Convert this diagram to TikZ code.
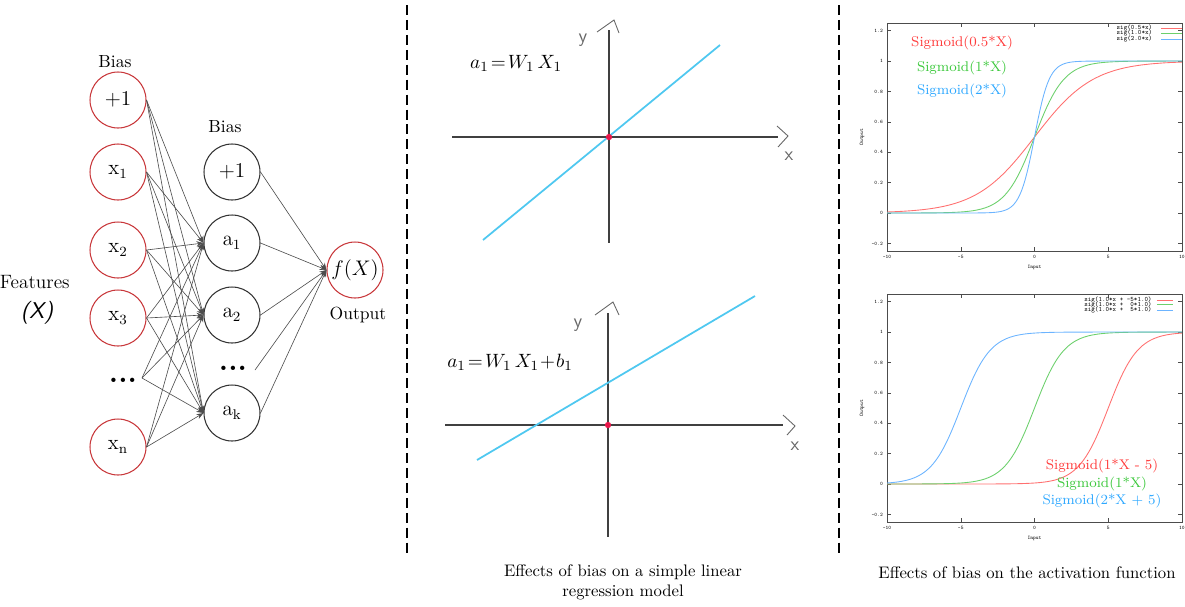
\documentclass[tikz,border=0pt]{standalone}
\usepackage{tikz}
\usetikzlibrary{positioning,arrows.meta}
\definecolor{neured}{HTML}{C8373A}
\definecolor{lineblue}{HTML}{4FC8F0}
\definecolor{orig}{HTML}{E8174A}
\definecolor{sigr}{HTML}{FF7070}
\definecolor{sigg}{HTML}{6CD06C}
\definecolor{sigb}{HTML}{6CB4FF}
\definecolor{labr}{HTML}{FF3B3B}
\definecolor{labg}{HTML}{3CC83C}
\definecolor{labb}{HTML}{2EA8FF}
\tikzset{
  inp/.style ={circle, draw=neured, line width=0.6pt, minimum size=1.12cm, inner sep=0pt, font=\fontsize{12}{14}\selectfont},
  hid/.style ={circle, draw=black!80, line width=0.6pt, minimum size=1.12cm, inner sep=0pt, font=\fontsize{12}{14}\selectfont},
  dotsn/.style={inner sep=0pt, font=\fontsize{17}{19}\selectfont\bfseries},
  lbl/.style ={inner sep=0pt, font=\fontsize{10}{12}\selectfont},
  wire/.style={draw=black!70, line width=0.35pt, -{Stealth[length=4pt,width=3pt]}},
  sep/.style ={draw=black, line width=1pt, dash pattern=on 5.7pt off 2.8pt},
  axisl/.style={draw=black!75, line width=0.9pt},
  hand/.style={draw=black!60, line width=0.5pt},
  handtxt/.style={text=black!60, font=\fontsize{11}{12}\selectfont\sffamily},
  regline/.style={draw=lineblue, line width=1pt},
  eq/.style={inner sep=0pt, font=\fontsize{11}{13}\selectfont},
  pframe/.style={draw=black!70, line width=0.3pt},
  tick/.style={inner sep=0.5pt, font=\fontsize{3}{3.5}\selectfont\ttfamily},
  leg/.style={inner sep=0pt, font=\fontsize{3.8}{4.2}\selectfont\ttfamily},
  siglab/.style={inner sep=0pt, font=\fontsize{8}{9.6}\selectfont},
  caption/.style={align=center, inner sep=0pt, font=\fontsize{9.5}{11.5}\selectfont},
  >=Stealth,
}
\newcommand{\plotframe}{%
  \draw[pframe] (-10,-0.25) rectangle (10,1.25);
  \foreach \v in {-0.2,0,0.2,0.4,0.6,0.8,1,1.2}{
    \draw[pframe] (-10,\v) -- ++(0.27,0);
    \draw[pframe] (10,\v) -- ++(-0.27,0);
    \node[tick, anchor=east] at (-10.2,\v) {\v};
  }
  \foreach \v in {-10,-5,0,5,10}{
    \draw[pframe] (\v,-0.25) -- ++(0,0.026);
    \draw[pframe] (\v,1.25) -- ++(0,-0.026);
    \node[tick, anchor=north] at (\v,-0.27) {\v};
  }
  \node[tick] at (0,-0.36) {Input};
  \node[tick, rotate=90] at (-11.7,0.5) {Output};
}

\begin{document}
\begin{tikzpicture}[x=0.02cm, y=-0.02cm]
\useasboundingbox (0,0) rectangle (1185,606);

% network
\node[lbl] (bias1) at (115,62) {Bias};
\node[inp] (b1) at (118,100) {$+1$};
\node[inp] (x1) at (118,172) {$\mathrm{x}_1$};
\node[inp] (x2) at (118,250) {$\mathrm{x}_2$};
\node[inp] (x3) at (118,318) {$\mathrm{x}_3$};
\node[dotsn] (xd) at (123,380) {...};
\coordinate (xdo) at (142,378);
\node[inp] (xn) at (118,447) {$\mathrm{x}_{\mathrm{n}}$};

\node[lbl] (bias2) at (225,127) {Bias};
\node[hid] (b2) at (232,172) {$+1$};
\node[hid] (a1) at (232,243) {$\mathrm{a}_1$};
\node[hid] (a2) at (232,315) {$\mathrm{a}_2$};
\node[dotsn] (ad) at (233,368) {...};
\coordinate (ado) at (255,370);
\node[hid] (ak) at (232,413) {$\mathrm{a}_{\mathrm{k}}$};

\node[inp] (fx) at (355,270) {$f(X)$};
\node[lbl] (out) at (358,315) {Output};

\node[lbl, anchor=east, font=\fontsize{11}{13}\selectfont] (feat) at (70,282) {Features};
\node[inner sep=0pt, font=\fontsize{13}{15}\selectfont] (featx) at (37,313) {\textsf{\textit{(X)}}};

\draw[wire] (b1.east) -- (a1.west);
\draw[wire] (b1.east) -- (a2.west);
\draw[wire] (b1.east) -- (ak.west);
\draw[wire] (x1.east) -- (a1.west);
\draw[wire] (x1.east) -- (a2.west);
\draw[wire] (x1.east) -- (ak.west);
\draw[wire] (x2.east) -- (a1.west);
\draw[wire] (x2.east) -- (a2.west);
\draw[wire] (x2.east) -- (ak.west);
\draw[wire] (x3.east) -- (a1.west);
\draw[wire] (x3.east) -- (a2.west);
\draw[wire] (x3.east) -- (ak.west);
\draw[wire] (xdo) -- (a1.west);
\draw[wire] (xdo) -- (a2.west);
\draw[wire] (xdo) -- (ak.west);
\draw[wire] (xn.east) -- (a1.west);
\draw[wire] (xn.east) -- (a2.west);
\draw[wire] (xn.east) -- (ak.west);

\draw[wire] (b2.east) -- (fx.west);
\draw[wire] (a1.east) -- (fx.west);
\draw[wire] (a2.east) -- (fx.west);
\draw[wire] (ado) -- (fx.west);
\draw[wire] (ak.east) -- (fx.west);

% separators
\draw[sep] (407,5) -- (407,553);
\draw[sep] (839,5) -- (839,553);

% linear model, no bias
\draw[axisl] (452,137) -- (778,137);
\draw[axisl] (609,30) -- (609,243);
\draw[hand] (777,126) -- (788,136) -- (778,147);
\draw[hand] (597,32) -- (614,20) -- (619,33);
\node[handtxt] (xa) at (789,156) {x};
\node[handtxt] (ya) at (583,40) {y};
\draw[regline] (483,240) -- (720,45);
\fill[orig] (609,137) circle (1.8pt);
\node[eq] (eqa) at (516,63) {$a_1\!=\!W_1\,X_1$};

% linear model, with bias
\draw[axisl] (445,425) -- (783,425);
\draw[axisl] (608,313) -- (608,537);
\draw[hand] (783,415) -- (795,426) -- (787,435);
\draw[hand] (595,315) -- (613,302) -- (619,315);
\node[handtxt] (xb) at (795,446) {x};
\node[handtxt] (yb) at (578,325) {y};
\draw[regline] (477,460) -- (755,296);
\fill[orig] (608,425) circle (1.8pt);
\node[eq] (eqb) at (510,362) {$a_1\!=\!W_1\,X_1\!+\!b_1$};

\node[caption] (capa) at (623,582) {Effects of bias on a simple linear\\regression model};

% sigmoid, varying weight
\begin{scope}[shift={(1034.5,213)}, x=0.295cm, y=3.04cm]
\plotframe
\draw[sigr, line width=0.5pt] plot[domain=-10:10, samples=121] (\x,{1/(1+exp(min(9,-0.5*\x)))});
\draw[sigg, line width=0.5pt] plot[domain=-10:10, samples=121] (\x,{1/(1+exp(min(9,-1*\x)))});
\draw[sigb, line width=0.5pt] plot[domain=-10:10, samples=161] (\x,{1/(1+exp(min(9,-2*\x)))});
\node[leg, anchor=east] at (8.0,1.217) {sig(0.5*x)};
\node[leg, anchor=east] at (8.0,1.184) {sig(1.0*x)};
\node[leg, anchor=east] at (8.0,1.145) {sig(2.0*x)};
\draw[sigr, line width=0.5pt] (8.6,1.217) -- (10,1.217);
\draw[sigg, line width=0.5pt] (8.6,1.184) -- (10,1.184);
\draw[sigb, line width=0.5pt] (8.6,1.145) -- (10,1.145);
\end{scope}
\node[siglab, text=labr] (sra) at (962,43) {Sigmoid(0.5*X)};
\node[siglab, text=labg] (sga) at (962,68) {Sigmoid(1*X)};
\node[siglab, text=labb] (sba) at (962,91) {Sigmoid(2*X)};

% sigmoid, varying bias
\begin{scope}[shift={(1034.5,484)}, x=0.295cm, y=3.04cm]
\plotframe
\draw[sigr, line width=0.5pt] plot[domain=-10:10, samples=121] (\x,{1/(1+exp(min(9,-(\x-5))))});
\draw[sigg, line width=0.5pt] plot[domain=-10:10, samples=121] (\x,{1/(1+exp(min(9,-\x)))});
\draw[sigb, line width=0.5pt] plot[domain=-10:10, samples=121] (\x,{1/(1+exp(min(9,-(\x+5))))});
\node[leg, anchor=east] at (7.97,1.21) {sig(1.0*x + -5*1.0)};
\node[leg, anchor=east] at (7.97,1.18) {sig(1.0*x +~~0*1.0)};
\node[leg, anchor=east] at (7.97,1.145) {sig(1.0*x +~~5*1.0)};
\draw[sigr, line width=0.5pt] (8.3,1.21) -- (9.4,1.21);
\draw[sigg, line width=0.5pt] (8.3,1.18) -- (9.4,1.18);
\draw[sigb, line width=0.5pt] (8.3,1.145) -- (9.4,1.145);
\end{scope}
\node[siglab, text=labr] (srb) at (1102,466) {Sigmoid(1*X - 5)};
\node[siglab, text=labg] (sgb) at (1102,484) {Sigmoid(1*X)};
\node[siglab, text=labb] (sbb) at (1102,501) {Sigmoid(2*X + 5)};

\node[caption] (capb) at (1027,573) {Effects of bias on the activation function};
\end{tikzpicture}
\end{document}
